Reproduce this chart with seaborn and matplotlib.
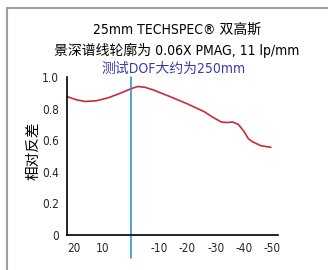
import matplotlib
matplotlib.use("Agg")
import matplotlib.pyplot as plt
import seaborn as sns
import pandas as pd
from matplotlib.lines import Line2D

position_mm = [22.5, 19, 16, 12, 8, 4, 0, -2.5, -5, -8, -14, -20, -26, -29, -32, -34,
               -36, -38, -40, -41.5, -43, -46, -49.5]
contrast = [0.876, 0.855, 0.845, 0.85, 0.868, 0.895, 0.925, 0.94, 0.935, 0.918, 0.875,
            0.83, 0.78, 0.745, 0.715, 0.712, 0.715, 0.70, 0.655, 0.61, 0.59, 0.565, 0.555]
x_ticks = [20, 10, -10, -20, -30, -40, -50]
y_ticks = [0, 0.2, 0.4, 0.6, 0.8, 1.0]
y_ticklabels = ["0", "0.2", "0.4", "0.6", "0.8", "1.0"]

title1 = "25mm TECHSPEC® 双高斯"
title2 = "景深谱线轮廓为 0.06X PMAG, 11 lp/mm"
title3 = "测试DOF大约为250mm"
ylabel = "相对反差"

sns.set_style("white")
plt.rcParams['font.family'] = ['DejaVu Sans', 'Noto Sans CJK SC']
plt.rcParams['font.stretch'] = 'condensed'

fig = plt.figure(figsize=(3.28, 2.70), dpi=100)
ax = fig.add_axes([67/328, 35/270, 211/328, 158/270])

df = pd.DataFrame({"x": position_mm, "y": contrast})
sns.lineplot(data=df, x="x", y="y", ax=ax, color="#cc2a3a", linewidth=1.2, sort=False)

ax.set_xlim(22.5, -52)
ax.set_ylim(0, 1.0)
ax.set_xticks(x_ticks)
ax.set_xticklabels([str(v) for v in x_ticks])
ax.set_yticks(y_ticks)
ax.set_yticklabels(y_ticklabels)
ax.set_xlabel("")
ax.set_ylabel("")
for s in ["top", "right"]:
    ax.spines[s].set_visible(False)
for s in ["left", "bottom"]:
    ax.spines[s].set_color("black")
    ax.spines[s].set_linewidth(1.2)
ax.tick_params(axis="both", which="both", direction="out", length=3, width=1,
               color="black", labelsize=8.5, pad=2)
ax.tick_params(axis="y", pad=3)
for lab in ax.get_xticklabels() + ax.get_yticklabels():
    lab.set_fontstretch('condensed')

ax.axvline(0, ymin=-0.146, ymax=1.0, color="#1e8cc8", linewidth=1.1, clip_on=False)

fig.text(177/328, 1 - 30/270, title1, ha="center", va="center", fontsize=10,
         color="black", fontstretch='condensed')
fig.text(177/328, 1 - 50/270, title2, ha="center", va="center", fontsize=10,
         color="black", fontstretch='condensed')
fig.text(174/328, 1 - 69/270, title3, ha="center", va="center", fontsize=10,
         color="#3c3caa", fontstretch='condensed')
fig.text(33/328, 1 - 151/270, ylabel, ha="center", va="center", rotation=90,
         fontsize=10.5, color="black")

fig.add_artist(Line2D([7/328, 7/328], [0, 1 - 8/270], transform=fig.transFigure,
                      color="#a0a0a0", linewidth=1.5))
fig.add_artist(Line2D([7/328, 1], [1 - 8/270, 1 - 8/270], transform=fig.transFigure,
                      color="#a0a0a0", linewidth=1.5))

fig.savefig("out.png", dpi=100)
